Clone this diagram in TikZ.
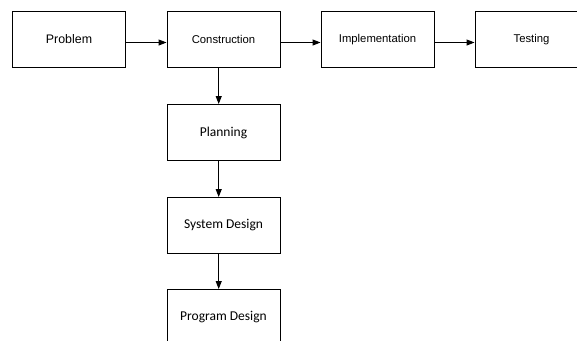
\documentclass[tikz,border=0pt]{standalone}
\usepackage{fontspec}
\setmainfont{Liberation Sans}
\newfontfamily\calibrifont{Carlito}
\usetikzlibrary{arrows.meta}

\tikzset{
  stage/.style={draw, line width=1bp, minimum width=113bp, minimum height=56bp,
    inner sep=0pt, anchor=north west},
  toprow/.style={stage, font=\fontsize{11.3bp}{13bp}\selectfont},
  subrow/.style={stage, font=\calibrifont\fontsize{13.5bp}{16bp}\selectfont},
  flow/.style={line width=1bp, -{Triangle[length=8bp,width=6bp]}}
}

\begin{document}
\begin{tikzpicture}[x=1bp, y=-1bp]
  \clip (0,0) rectangle (577,340);
  \fill[white] (0,0) rectangle (577,340);

  % main chain
  \node[toprow, font=\fontsize{12.4bp}{14bp}\selectfont] (prob) at (12,11) {Problem};
  \node[toprow] (cons) at (166.5,11) {Construction};
  \node[toprow] (impl) at (320.5,11) {Implementation};
  \node[toprow] (test) at (474.5,11) {Testing};

  % construction breakdown
  \node[subrow] (plan) at (166.5,104) {Planning};
  \node[subrow] (sysd) at (166.5,197) {System Design};
  \node[subrow] (prgd) at (166.5,289) {Program Design};

  \draw[flow] ([yshift=-3bp]prob.east) -- ([yshift=-3bp]cons.west);
  \draw[flow] ([yshift=-3bp]cons.east) -- ([yshift=-3bp]impl.west);
  \draw[flow] ([yshift=-3bp]impl.east) -- ([yshift=-3bp]test.west);

  \draw[flow] ([xshift=-4.8bp]cons.south) -- ([xshift=-4.8bp]plan.north);
  \draw[flow] ([xshift=-4.8bp]plan.south) -- ([xshift=-4.8bp]sysd.north);
  \draw[flow] ([xshift=-4.8bp]sysd.south) -- ([xshift=-4.8bp]prgd.north);
\end{tikzpicture}
\end{document}
